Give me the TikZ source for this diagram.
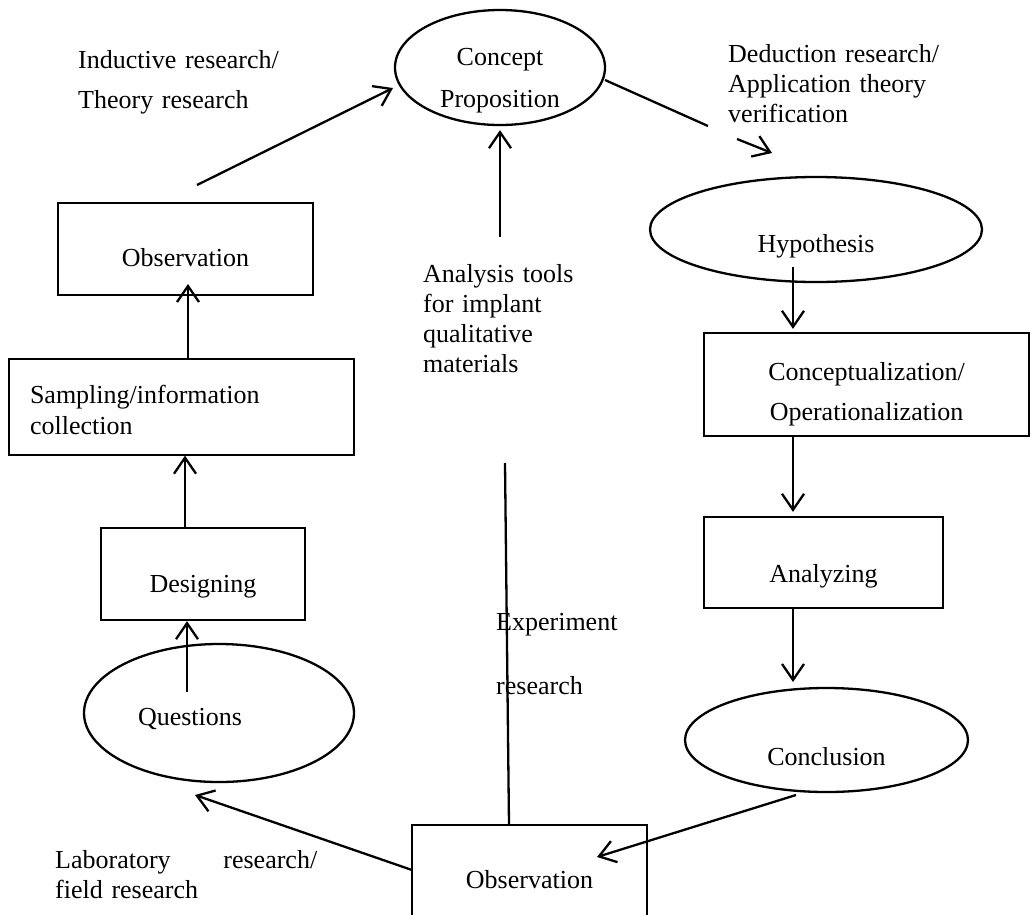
\documentclass[tikz,border=0pt]{standalone}
\usepackage{fontspec}
\setmainfont{Liberation Serif}
\usetikzlibrary{arrows.meta,shapes.geometric}
\begin{document}
\begin{tikzpicture}[x=1pt,y=-1pt,
  every node/.style={inner sep=0pt, text=black, font=\fontsize{26}{30}\selectfont},
  fnt/.style={font=\fontsize{26}{#1}\selectfont},
  stroke/.style={line width=2.3pt},
  box/.style={draw, rectangle, stroke},
  oval/.style={draw, ellipse, stroke},
  arr/.style={stroke, -{Straight Barb[length=16pt,width=22pt]}},
  lbl/.style={anchor=base west, align=left, text width=#1},
]
\useasboundingbox (0,0) rectangle (1031,914);
\fill[white] (0,0) rectangle (1031,914);
\clip (0,0) rectangle (1031,914);

% ---- right branch: deduction ----
\node[oval, minimum width=210pt, minimum height=115pt, align=center, text width=130pt,
      text height=20pt, text depth=25pt, fnt=42] (cp) at (500,67.5) {Concept\\Proposition};
\node[oval, minimum width=332pt, minimum height=105pt, text height=45pt, text depth=0pt]
      (hy) at (816,229.5) {Hypothesis};
\node[box, minimum width=325pt, minimum height=103pt, align=center, text width=210pt,
      text height=20pt, text depth=29pt, fnt=40] (cz) at (866.5,384.5) {Conceptualization/\\Operationalization};
\node[box, minimum width=239pt, minimum height=91pt, text height=39pt, text depth=0pt]
      (an) at (823.5,562.5) {Analyzing};
\node[oval, minimum width=283pt, minimum height=104pt, text height=50pt, text depth=0pt]
      (cl) at (826.5,740) {Conclusion};

% ---- bottom ----
\node[box, minimum width=235pt, minimum height=135pt, text height=0pt, text depth=9pt]
      (ob2) at (529.5,892.5) {Observation};

% ---- left branch: induction ----
\node[oval, minimum width=270pt, minimum height=138pt, text width=162pt, align=left,
      text height=24pt, text depth=0pt] (qu) at (219,713) {Questions};
\node[box, minimum width=204pt, minimum height=92pt, text height=36pt, text depth=0pt]
      (de) at (203,574) {Designing};
\node[box, line width=1.3pt, minimum width=345pt, minimum height=96pt, text width=303pt,
      align=left, text height=18pt, text depth=26pt, fnt=31] (sa) at (181.5,407) {Sampling/information\\collection};
\node[box, minimum width=255pt, minimum height=92pt, text height=34pt, text depth=0pt]
      (ob1) at (185.5,249) {Observation};

% ---- labels ----
\node[lbl=400pt, fnt=40] (ind) at (78,68) {Inductive research/\\Theory research};
\node[lbl=300pt, fnt=30] (ded) at (728,62) {Deduction research/\\Application theory\\verification};
\node[lbl=250pt, fnt=30.3] (ana) at (423,282) {Analysis tools\\for implant\\qualitative\\materials};
\node[lbl=250pt, fnt=64] (exp) at (496,630) {Experiment\\research};
\node[lbl=262pt, fnt=30] (lab) at (55,868) {Laboratory\hfill research/\\field research};

% ---- connector end points ----
\coordinate (i1) at (197,185);
\coordinate (i2) at (393,88);
\coordinate (d1) at (605,80);
\coordinate (d2) at (708,126);
\coordinate (d3) at (737,139);
\coordinate (d4) at (772,153);
\coordinate (ap) at (500,237);
\coordinate (rc) at (793,267);
\coordinate (ct) at (793,682);
\coordinate (c1) at (796,795);
\coordinate (c2) at (597,857);
\coordinate (q1) at (412,870);
\coordinate (q2) at (195,795);
\coordinate (e1) at (505,463);
\coordinate (e2) at (509,825);
\coordinate (l1) at (188,284);
\coordinate (l2) at (185,0);
\coordinate (l3) at (187,692);

% ---- connectors ----
\draw[arr] (i1) -- (i2);
\draw[arr, shorten >=4pt] (ap) -- (cp.south);
\draw[stroke] (d1) -- (d2);
\draw[arr] (d3) -- (d4);
\draw[arr, shorten >=3pt] (rc) -- (rc |- cz.north);
\draw[arr, shorten >=4pt] (cz.south -| rc) -- (an.north -| rc);
\draw[arr] (an.south -| rc) -- (ct);
\draw[arr] (c1) -- (c2);
\draw[arr] (q1) -- (q2);
\draw[stroke] (e1) -- (e2);
\draw[arr] (sa.north -| l1) -- (l1);
\draw[arr] (de.north -| l2) -- (sa.south -| l2);
\draw[arr] (l3) -- (de.south -| l3);
\end{tikzpicture}
\end{document}
